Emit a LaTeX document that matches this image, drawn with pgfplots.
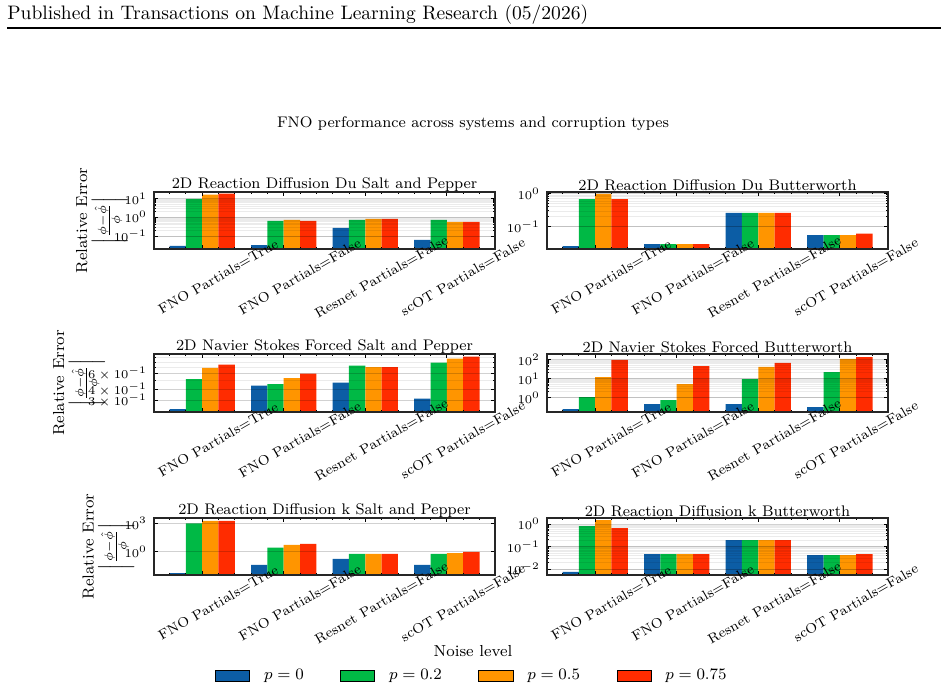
\documentclass[border=0pt]{standalone}
\usepackage{pgfplots}
\pgfplotsset{compat=1.18}
\definecolor{c0}{HTML}{0C5DA5}
\definecolor{c1}{HTML}{00B945}
\definecolor{c2}{HTML}{FF9500}
\definecolor{c3}{HTML}{FF2C00}
\pgfplotsset{
  fnopanel/.style={
    scale only axis, width=170.5bp, height=28.5bp,
    anchor=south west, axis on top,
    log origin y=infty,
    xmin=-0.59, xmax=3.59,
    xtick={0,1,2,3},
    xticklabels={{FNO Partials=True},{FNO Partials=False},{Resnet Partials=False},{scOT Partials=False}},
    minor xtick={-0.4,-0.2,0.2,0.4,0.6,0.8,1.2,1.4,1.6,1.8,2.2,2.4,2.6,2.8,3.2,3.4},
    xticklabel style={rotate=30, anchor=center, yshift=-16bp, font=\fontsize{6.9}{8.3}\selectfont},
    yticklabel style={font=\fontsize{6.2}{7.4}\selectfont},
    title style={font=\fontsize{7.7}{9.2}\selectfont, yshift=-9bp},
    ylabel style={font=\fontsize{8}{9.6}\selectfont, align=center, anchor=center},
    tick align=inside, tick pos=both,
    major tick length=2bp, minor tick length=1bp,
    every tick/.style={black, line width=0.4bp},
    axis line style={line width=0.7bp, black!85},
    ymajorgrids, yminorgrids,
    major grid style={black, opacity=0.18, line width=0.3bp},
    minor grid style={black, opacity=0.08, line width=0.22bp},
  },
  fnobar/.style={ybar, bar width=0.2, bar shift=#1, draw=none, area legend},
  fnoylab/.style={ylabel={Relative Error\\[1.2bp]$\left|\vphantom{\rule[-6.5bp]{0pt}{15bp}}\frac{\phi-\hat{\phi}}{\phi}\right|$},
    ylabel style={at={(axis description cs:#1,0.5)}}},
}
\begin{document}
\begin{tikzpicture}
\path[use as bounding box] (0,0) rectangle (474bp,346bp);
% header
\node[anchor=base west, inner sep=0pt, font=\fontsize{9.8}{11.8}\selectfont] at (3.5bp,336bp) {Published in Transactions on Machine Learning Research (05/2026)};
\draw[line width=0.6bp] (3.5bp,332bp) -- (470.5bp,332bp);
% main title
\node[font=\fontsize{7.7}{9.2}\selectfont] at (236.5bp,284bp) {FNO performance across systems and corruption types};

% Row 1 left
\begin{axis}[ymode=log, fnopanel, fnoylab=-0.153, at={(77bp,221.5bp)}, ymin=0.0204, ymax=21.6,
  ytick={0.1,1,10}, title={2D Reaction Diffusion Du Salt and Pepper}]
\addplot[fnobar=-0.3, fill=c0] coordinates {(0,0.0296) (1,0.033) (2,0.27) (3,0.062)};
\addplot[fnobar=-0.1, fill=c1] coordinates {(0,9.2) (1,0.63) (2,0.72) (3,0.72)};
\addplot[fnobar=0.1, fill=c2] coordinates {(0,15.5) (1,0.72) (2,0.81) (3,0.56)};
\addplot[fnobar=0.3, fill=c3] coordinates {(0,17.5) (1,0.63) (2,0.81) (3,0.56)};
\end{axis}
% Row 1 right
\begin{axis}[ymode=log, fnopanel, at={(273.5bp,221.5bp)}, ymin=0.0214, ymax=1.1,
  ytick={0.1,1}, title={2D Reaction Diffusion Du Butterworth}]
\addplot[fnobar=-0.3, fill=c0] coordinates {(0,0.026) (1,0.030) (2,0.26) (3,0.056)};
\addplot[fnobar=-0.1, fill=c1] coordinates {(0,0.67) (1,0.030) (2,0.26) (3,0.056)};
\addplot[fnobar=0.1, fill=c2] coordinates {(0,0.97) (1,0.030) (2,0.26) (3,0.056)};
\addplot[fnobar=0.3, fill=c3] coordinates {(0,0.67) (1,0.030) (2,0.26) (3,0.062)};
\end{axis}
% Row 2 left
\begin{axis}[ymode=log, fnopanel, fnoylab=-0.22, at={(77bp,140bp)}, height=29bp, ymin=0.2254, ymax=0.977,
  ytick={0.3,0.4,0.6}, yticklabels={$3\times10^{-1}$,$4\times10^{-1}$,$6\times10^{-1}$},
  minor ytick={0.5,0.7,0.8,0.9},
  title={2D Navier Stokes Forced Salt and Pepper}]
\addplot[fnobar=-0.3, fill=c0] coordinates {(0,0.243) (1,0.438) (2,0.473) (3,0.316)};
\addplot[fnobar=-0.1, fill=c1] coordinates {(0,0.519) (1,0.457) (2,0.727) (3,0.786)};
\addplot[fnobar=0.1, fill=c2] coordinates {(0,0.686) (1,0.532) (2,0.703) (3,0.868)};
\addplot[fnobar=0.3, fill=c3] coordinates {(0,0.746) (1,0.594) (2,0.703) (3,0.912)};
\end{axis}
% Row 2 right
\begin{axis}[ymode=log, fnopanel, at={(273.5bp,140bp)}, height=29bp, ymin=0.17, ymax=190,
  ytick={1,10,100}, title={2D Navier Stokes Forced Butterworth}]
\addplot[fnobar=-0.3, fill=c0] coordinates {(0,0.24) (1,0.44) (2,0.44) (3,0.31)};
\addplot[fnobar=-0.1, fill=c1] coordinates {(0,1.04) (1,0.72) (2,9.2) (3,21.5)};
\addplot[fnobar=0.1, fill=c2] coordinates {(0,11.7) (1,5.0) (2,40) (3,104)};
\addplot[fnobar=0.3, fill=c3] coordinates {(0,92) (1,44) (2,64) (3,132)};
\end{axis}
% Row 3 left
\begin{axis}[ymode=log, fnopanel, fnoylab=-0.134, at={(77bp,58.5bp)}, ymin=0.0034, ymax=3630,
  ytick={1,1000}, yminorgrids=false,
  title={2D Reaction Diffusion k Salt and Pepper},
  legend columns=4,
  legend image code/.code={\fill[#1] (0bp,-3.25bp) rectangle (16.5bp,3.25bp);},
  legend style={at={(0.9355,-1.772)}, anchor=center, draw=none, fill=none,
    font=\fontsize{8}{9.6}\selectfont,
    /tikz/every even column/.append style={column sep=16.3bp},
    /tikz/every odd column/.append style={column sep=5bp}}]
\addplot[fnobar=-0.3, fill=c0] coordinates {(0,0.0055) (1,0.039) (2,0.17) (3,0.039)};
\addplot[fnobar=-0.1, fill=c1] coordinates {(0,1000) (1,2.65) (2,0.57) (3,0.57)};
\addplot[fnobar=0.1, fill=c2] coordinates {(0,1780) (1,5.1) (2,0.57) (3,0.72)};
\addplot[fnobar=0.3, fill=c3] coordinates {(0,1780) (1,6.6) (2,0.57) (3,0.93)};
\legend{$p=0$,$p=0.2$,$p=0.5$,$p=0.75$}
\end{axis}
% Row 3 right
\begin{axis}[ymode=log, fnopanel, at={(273.5bp,58.5bp)}, ymin=0.0054, ymax=1.85,
  ytick={0.01,0.1,1}, title={2D Reaction Diffusion k Butterworth}]
\addplot[fnobar=-0.3, fill=c0] coordinates {(0,0.0074) (1,0.046) (2,0.19) (3,0.041)};
\addplot[fnobar=-0.1, fill=c1] coordinates {(0,0.81) (1,0.046) (2,0.19) (3,0.041)};
\addplot[fnobar=0.1, fill=c2] coordinates {(0,1.5) (1,0.046) (2,0.19) (3,0.041)};
\addplot[fnobar=0.3, fill=c3] coordinates {(0,0.66) (1,0.046) (2,0.19) (3,0.046)};
\end{axis}
\node[font=\fontsize{8}{9.6}\selectfont] at (236.5bp,20.5bp) {Noise level};
\end{tikzpicture}
\end{document}
